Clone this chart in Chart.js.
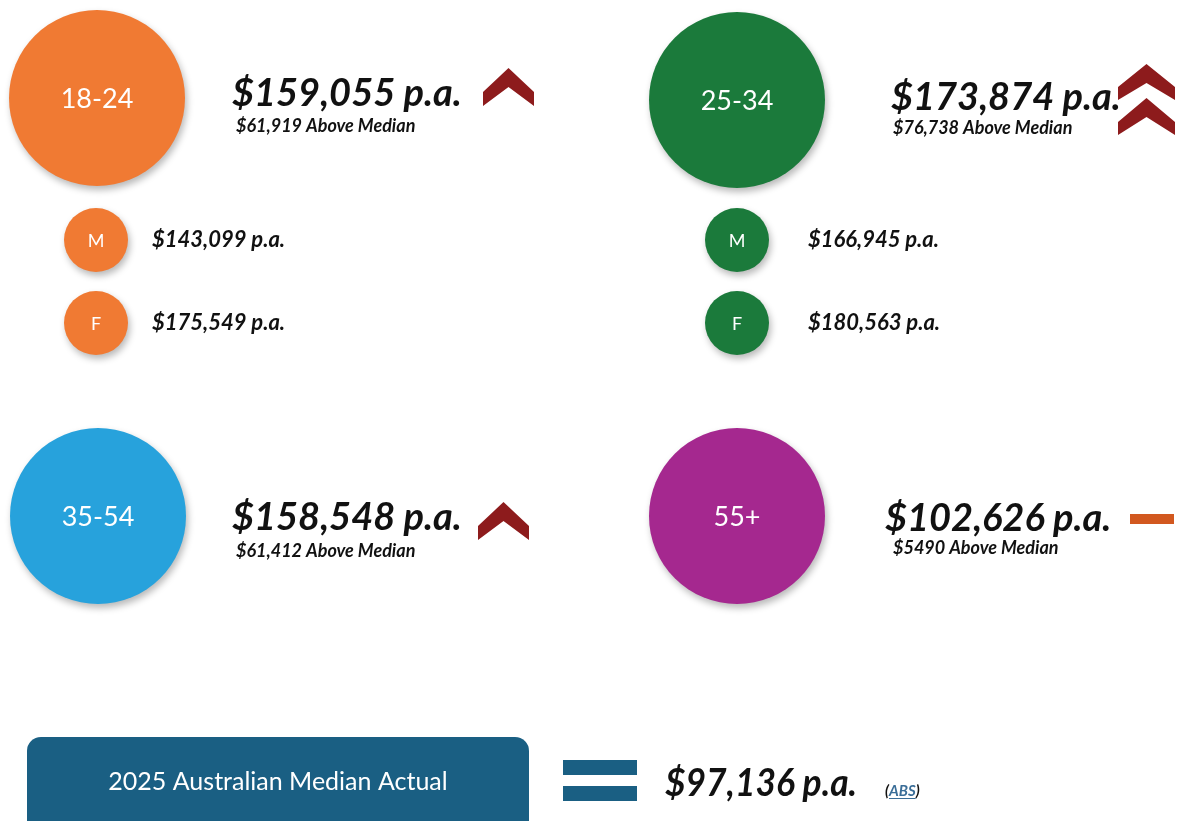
<!DOCTYPE html>
<html>
<head>
<meta charset="utf-8">
<script src="https://cdn.jsdelivr.net/npm/chart.js@4/dist/chart.umd.min.js"></script>
<style>
  html, body { margin: 0; padding: 0; background: #fff; }
  #wrap { width: 1177px; height: 821px; }
</style>
</head>
<body>
<div id="wrap"><canvas id="chart" width="1177" height="821"></canvas></div>
<script>
// data
const groups = ["18-24", "25-34", "35-54", "55+"];
const salary = [159055, 173874, 158548, 102626];
const aboveMedian = [61919, 76738, 61412, 5490];
const trend = ["up", "double", "up", "flat"];
const genderLabels = ["M", "F"];
const maleSalary = [143099, 166945];   // 18-24, 25-34
const femaleSalary = [175549, 180563]; // 18-24, 25-34
const median = 97136;
const medianLabel = "2025 Australian Median Actual";
const source = "ABS";

// layout (pixel units on the hidden scales)
const groupColors = ["#f07a33", "#1b7a3b", "#27a2dc", "#a5288f"];
const circleX = [97, 737, 98, 737];
const circleY = [98, 100, 516, 516];
const bigR = 88;
const smallR = 32;
const genderX = [96, 737];
const genderY = [240, 323];
const genderTextX = [152, 808];
const valueX = [232, 891, 232, 885];
const valueBase = [106, 110, 530, 531];
const subX = [236, 893, 236, 893];
const subBase = [132, 134, 557, 554];
const iconX = [483, 1118, 478, 1130];
const iconY = [68, 64, 502, 514];

const fmt = (n) => "$" + (n >= 10000 ? n.toLocaleString("en-US") : String(n));

const bigPoints = groups.map((g, i) => ({ x: circleX[i], y: circleY[i], r: bigR }));
const smallPoints = [];
const smallColors = [];
const smallLabels = [];
[maleSalary, femaleSalary].forEach((arr, gi) => {
  arr.forEach((v, ci) => {
    smallPoints.push({ x: genderX[ci], y: genderY[gi], r: smallR });
    smallColors.push(groupColors[ci]);
    smallLabels.push({ text: genderLabels[gi], value: fmt(v) + " p.a.", col: ci });
  });
});

const BOLD_IT = "italic bold ";
const FACE = "Lato, 'Open Sans', sans-serif";

function chevron(ctx, x, y, w, h, side, drop) {
  ctx.beginPath();
  ctx.moveTo(x, y + h - side);
  ctx.lineTo(x + w / 2, y);
  ctx.lineTo(x + w, y + h - side);
  ctx.lineTo(x + w, y + h);
  ctx.lineTo(x + w / 2, y + drop);
  ctx.lineTo(x, y + h);
  ctx.closePath();
  ctx.fill();
}

const shadowPlugin = {
  id: "shadow",
  beforeDatasetsDraw(chart) {
    const ctx = chart.ctx;
    ctx.save();
    ctx.shadowColor = "rgba(0,0,0,0.28)";
    ctx.shadowBlur = 7;
    ctx.shadowOffsetX = 2;
    ctx.shadowOffsetY = 4;
  },
  afterDatasetsDraw(chart) {
    chart.ctx.restore();
  }
};

const textPlugin = {
  id: "texts",
  afterDraw(chart) {
    const ctx = chart.ctx;
    const xs = chart.scales.x, ys = chart.scales.y;
    const px = (v) => xs.getPixelForValue(v);
    const py = (v) => ys.getPixelForValue(v);
    ctx.save();

    // circle labels
    ctx.textAlign = "center";
    ctx.textBaseline = "middle";
    ctx.fillStyle = "#fff";
    ctx.font = "27px " + FACE;
    chart.getDatasetMeta(0).data.forEach((el, i) => {
      ctx.fillText(groups[i], el.x, el.y + 1);
    });
    ctx.font = "18px " + FACE;
    chart.getDatasetMeta(1).data.forEach((el, i) => {
      ctx.fillText(smallLabels[i].text, el.x, el.y + 1);
    });

    // values
    ctx.textAlign = "left";
    ctx.textBaseline = "alphabetic";
    ctx.fillStyle = "#111";
    groups.forEach((g, i) => {
      ctx.font = BOLD_IT + "38px " + FACE;
      ctx.fillText(fmt(salary[i]) + " p.a.", px(valueX[i]), py(valueBase[i]), 230);
      ctx.font = BOLD_IT + "18px " + FACE;
      ctx.fillText(fmt(aboveMedian[i]) + " Above Median", px(subX[i]), py(subBase[i]), 198);
    });
    ctx.font = BOLD_IT + "22px " + FACE;
    chart.getDatasetMeta(1).data.forEach((el, i) => {
      ctx.fillText(smallLabels[i].value, px(genderTextX[smallLabels[i].col]), el.y + 7, 140);
    });

    // trend icons
    trend.forEach((t, i) => {
      const x = px(iconX[i]), y = py(iconY[i]);
      if (t === "up") {
        ctx.fillStyle = "#8d1b1c";
        chevron(ctx, x, y, 51, 38, 14, 19);
      } else if (t === "double") {
        ctx.fillStyle = "#8d1b1c";
        chevron(ctx, x, y, 57, 36, 13, 19);
        chevron(ctx, x, y + 34, 57, 37, 13, 19);
      } else {
        ctx.fillStyle = "#d2581f";
        ctx.fillRect(x, y, 44, 10);
      }
    });

    // median box
    ctx.fillStyle = "#1a5f83";
    ctx.beginPath();
    ctx.roundRect(px(27), py(737), 502, 100, 14);
    ctx.fill();
    ctx.fillStyle = "#fff";
    ctx.font = "25px " + FACE;
    ctx.textAlign = "center";
    ctx.fillText(medianLabel, px(278), py(790), 362);

    // equals sign
    ctx.fillStyle = "#1a5f83";
    ctx.fillRect(px(563), py(760), 74, 15);
    ctx.fillRect(px(563), py(786), 74, 15);

    ctx.textAlign = "left";
    ctx.fillStyle = "#111";
    ctx.font = BOLD_IT + "38px " + FACE;
    ctx.fillText(fmt(median) + " p.a.", px(665), py(796), 192);
    ctx.font = BOLD_IT + "15px " + FACE;
    ctx.fillText("(", px(885), py(796));
    const w0 = ctx.measureText("(").width;
    ctx.fillStyle = "#3b6e98";
    ctx.fillText(source, px(885) + w0, py(796));
    const w1 = ctx.measureText(source).width;
    ctx.fillRect(px(885) + w0, py(798), w1, 1);
    ctx.fillStyle = "#111";
    ctx.fillText(")", px(885) + w0 + w1, py(796));

    ctx.restore();
  }
};

new Chart(document.getElementById("chart"), {
  type: "bubble",
  data: {
    datasets: [
      { data: bigPoints, backgroundColor: groupColors, borderWidth: 0, clip: false },
      { data: smallPoints, backgroundColor: smallColors, borderWidth: 0, clip: false }
    ]
  },
  options: {
    responsive: false,
    animation: false,
    devicePixelRatio: 1,
    layout: { padding: 0, autoPadding: false },
    events: [],
    scales: {
      x: { type: "linear", min: 0, max: 1177, display: false },
      y: { type: "linear", min: 0, max: 821, reverse: true, display: false }
    },
    plugins: { legend: { display: false }, tooltip: { enabled: false } }
  },
  plugins: [shadowPlugin, textPlugin]
});
</script>
</body>
</html>
